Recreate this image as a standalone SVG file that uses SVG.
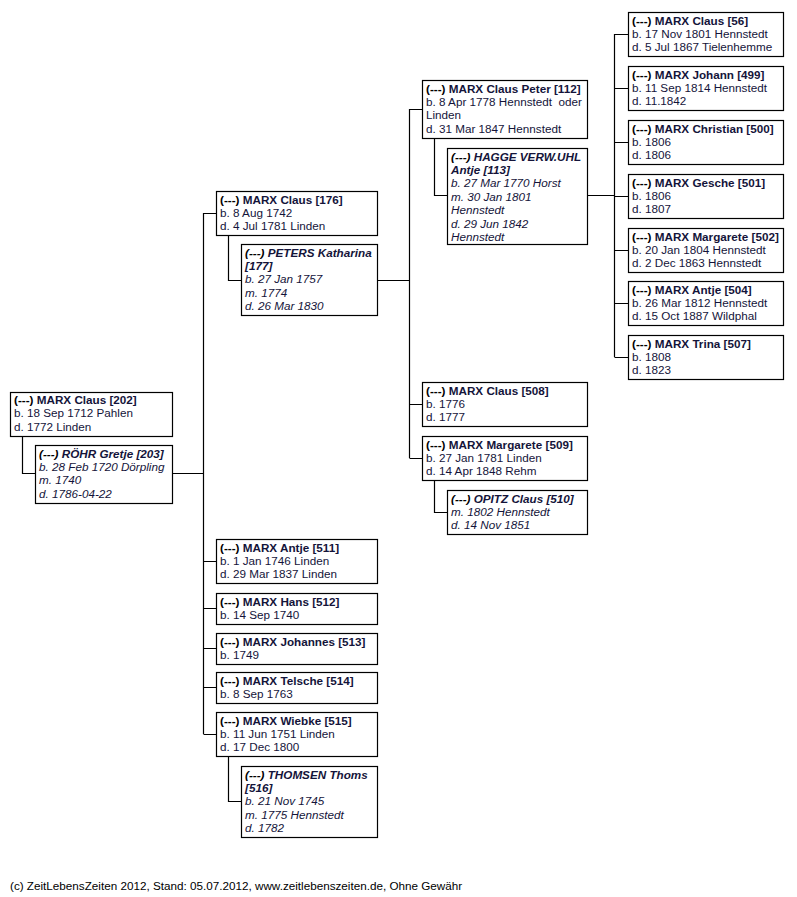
<svg xmlns="http://www.w3.org/2000/svg" width="797" height="897" viewBox="0 0 797 897">
<style>
.bx{fill:#fff;stroke:#000;stroke-width:1.2}
.ln{fill:none;stroke:#000;stroke-width:1.2}
text{font-family:"Liberation Sans",Arial,sans-serif;font-size:11.7px;fill:#14143a;white-space:pre}
.h{font-weight:bold}
.i{font-style:italic}
.k{fill:#000}
.f{fill:#000}
</style>
<rect width="797" height="897" fill="#fff"/>
<g id="connectors">
<path class="ln" d="M22.5 436V473.5H35M172 473.5H203.5M203.5 213V734"/>
<path class="ln" d="M203.5 213.5H216M203.5 561.5H216M203.5 608.5H216M203.5 648.5H216M203.5 687.5H216M203.5 734.5H216"/>
<path class="ln" d="M228.5 235V280.5H241M377 280.5H409.5M409.5 109V458"/>
<path class="ln" d="M228.5 756V801.5H241"/>
<path class="ln" d="M409.5 109.5H422M409.5 404.5H422M409.5 458.5H422"/>
<path class="ln" d="M434.5 138V195.5H447M587 195.5H614.5M434.5 480V512.5H447"/>
<path class="ln" d="M614.5 34V357M614.5 34.5H628M614.5 88.5H628M614.5 142.5H628M614.5 196.5H628M614.5 250.5H628M614.5 303.5H628M614.5 357.5H628"/>
</g>
<g id="n202"><rect class="bx" x="10.5" y="392.5" width="162" height="44"/>
<text x="14" y="404"><tspan class="h k">(---) </tspan><tspan class="h">MARX Claus [202]</tspan></text>
<text x="14" y="417.4">b. 18 Sep 1712 Pahlen</text><text x="14" y="430.8">d. 1772 Linden</text></g>
<g id="n203"><rect class="bx" x="35.5" y="445.5" width="137" height="58"/>
<text class="i" x="39" y="457.5"><tspan class="h k">(---) </tspan><tspan class="h">RÖHR Gretje [203]</tspan></text>
<text class="i" x="39" y="470.9">b. 28 Feb 1720 Dörpling</text><text class="i" x="39" y="484.3">m. 1740</text><text class="i" x="39" y="497.7">d. 1786-04-22</text></g>
<g id="n176"><rect class="bx" x="216.5" y="191.5" width="161" height="44"/>
<text x="220" y="203.5"><tspan class="h k">(---) </tspan><tspan class="h">MARX Claus [176]</tspan></text>
<text x="220" y="216.9">b. 8 Aug 1742</text><text x="220" y="230.3">d. 4 Jul 1781 Linden</text></g>
<g id="n177"><rect class="bx" x="241.5" y="244.5" width="136" height="71"/>
<text class="i" x="245" y="256.5"><tspan class="h k">(---) </tspan><tspan class="h">PETERS Katharina</tspan></text>
<text class="i h" x="245" y="269.9">[177]</text>
<text class="i" x="245" y="283.3">b. 27 Jan 1757</text><text class="i" x="245" y="296.7">m. 1774</text><text class="i" x="245" y="310.1">d. 26 Mar 1830</text></g>
<g id="n112"><rect class="bx" x="422.5" y="80.5" width="165" height="58"/>
<text x="426" y="92.5"><tspan class="h k">(---) </tspan><tspan class="h">MARX Claus Peter [112]</tspan></text>
<text x="426" y="105.9">b. 8 Apr 1778 Hennstedt  oder</text><text x="426" y="119.3">Linden</text><text x="426" y="132.7">d. 31 Mar 1847 Hennstedt</text></g>
<g id="n113"><rect class="bx" x="447.5" y="148.5" width="140" height="96"/>
<text class="i" x="451" y="160.5"><tspan class="h k">(---) </tspan><tspan class="h">HAGGE VERW.UHL</tspan></text>
<text class="i h" x="451" y="173.9">Antje [113]</text>
<text class="i" x="451" y="187.3">b. 27 Mar 1770 Horst</text><text class="i" x="451" y="200.7">m. 30 Jan 1801</text><text class="i" x="451" y="214.1">Hennstedt</text><text class="i" x="451" y="227.5">d. 29 Jun 1842</text><text class="i" x="451" y="240.9">Hennstedt</text></g>
<g id="n508"><rect class="bx" x="422.5" y="382.5" width="165" height="44"/>
<text x="426" y="394.5"><tspan class="h k">(---) </tspan><tspan class="h">MARX Claus [508]</tspan></text>
<text x="426" y="407.9">b. 1776</text><text x="426" y="421.3">d. 1777</text></g>
<g id="n509"><rect class="bx" x="422.5" y="436.5" width="165" height="44"/>
<text x="426" y="448.5"><tspan class="h k">(---) </tspan><tspan class="h">MARX Margarete [509]</tspan></text>
<text x="426" y="461.9">b. 27 Jan 1781 Linden</text><text x="426" y="475.3">d. 14 Apr 1848 Rehm</text></g>
<g id="n510"><rect class="bx" x="447.5" y="490.5" width="140" height="44"/>
<text class="i" x="451" y="502.5"><tspan class="h k">(---) </tspan><tspan class="h">OPITZ Claus [510]</tspan></text>
<text class="i" x="451" y="515.9">m. 1802 Hennstedt</text><text class="i" x="451" y="529.3">d. 14 Nov 1851</text></g>
<g id="n56"><rect class="bx" x="628.5" y="12.5" width="155" height="44"/>
<text x="632" y="24.5"><tspan class="h k">(---) </tspan><tspan class="h">MARX Claus [56]</tspan></text>
<text x="632" y="37.9">b. 17 Nov 1801 Hennstedt</text><text x="632" y="51.3">d. 5 Jul 1867 Tielenhemme</text></g>
<g id="n499"><rect class="bx" x="628.5" y="66.5" width="155" height="44"/>
<text x="632" y="78.5"><tspan class="h k">(---) </tspan><tspan class="h">MARX Johann [499]</tspan></text>
<text x="632" y="91.9">b. 11 Sep 1814 Hennstedt</text><text x="632" y="105.3">d. 11.1842</text></g>
<g id="n500"><rect class="bx" x="628.5" y="120.5" width="155" height="44"/>
<text x="632" y="132.5"><tspan class="h k">(---) </tspan><tspan class="h">MARX Christian [500]</tspan></text>
<text x="632" y="145.9">b. 1806</text><text x="632" y="159.3">d. 1806</text></g>
<g id="n501"><rect class="bx" x="628.5" y="174.5" width="155" height="44"/>
<text x="632" y="186.5"><tspan class="h k">(---) </tspan><tspan class="h">MARX Gesche [501]</tspan></text>
<text x="632" y="199.9">b. 1806</text><text x="632" y="213.3">d. 1807</text></g>
<g id="n502"><rect class="bx" x="628.5" y="228.5" width="155" height="44"/>
<text x="632" y="240.5"><tspan class="h k">(---) </tspan><tspan class="h">MARX Margarete [502]</tspan></text>
<text x="632" y="253.9">b. 20 Jan 1804 Hennstedt</text><text x="632" y="267.3">d. 2 Dec 1863 Hennstedt</text></g>
<g id="n504"><rect class="bx" x="628.5" y="281.5" width="155" height="44"/>
<text x="632" y="293.5"><tspan class="h k">(---) </tspan><tspan class="h">MARX Antje [504]</tspan></text>
<text x="632" y="306.9">b. 26 Mar 1812 Hennstedt</text><text x="632" y="320.3">d. 15 Oct 1887 Wildphal</text></g>
<g id="n507"><rect class="bx" x="628.5" y="335.5" width="155" height="44"/>
<text x="632" y="347.5"><tspan class="h k">(---) </tspan><tspan class="h">MARX Trina [507]</tspan></text>
<text x="632" y="360.9">b. 1808</text><text x="632" y="374.3">d. 1823</text></g>
<g id="n511"><rect class="bx" x="216.5" y="539.5" width="161" height="44"/>
<text x="220" y="551.5"><tspan class="h k">(---) </tspan><tspan class="h">MARX Antje [511]</tspan></text>
<text x="220" y="564.9">b. 1 Jan 1746 Linden</text><text x="220" y="578.3">d. 29 Mar 1837 Linden</text></g>
<g id="n512"><rect class="bx" x="216.5" y="593.5" width="161" height="31"/>
<text x="220" y="605.5"><tspan class="h k">(---) </tspan><tspan class="h">MARX Hans [512]</tspan></text>
<text x="220" y="618.9">b. 14 Sep 1740</text></g>
<g id="n513"><rect class="bx" x="216.5" y="633.5" width="161" height="31"/>
<text x="220" y="645.5"><tspan class="h k">(---) </tspan><tspan class="h">MARX Johannes [513]</tspan></text>
<text x="220" y="658.9">b. 1749</text></g>
<g id="n514"><rect class="bx" x="216.5" y="672.5" width="161" height="31"/>
<text x="220" y="684.5"><tspan class="h k">(---) </tspan><tspan class="h">MARX Telsche [514]</tspan></text>
<text x="220" y="697.9">b. 8 Sep 1763</text></g>
<g id="n515"><rect class="bx" x="216.5" y="712.5" width="161" height="44"/>
<text x="220" y="724.5"><tspan class="h k">(---) </tspan><tspan class="h">MARX Wiebke [515]</tspan></text>
<text x="220" y="737.9">b. 11 Jun 1751 Linden</text><text x="220" y="751.3">d. 17 Dec 1800</text></g>
<g id="n516"><rect class="bx" x="241.5" y="766.5" width="136" height="71"/>
<text class="i" x="245" y="778.5"><tspan class="h k">(---) </tspan><tspan class="h">THOMSEN Thoms</tspan></text>
<text class="i h" x="245" y="791.9">[516]</text>
<text class="i" x="245" y="805.3">b. 21 Nov 1745</text><text class="i" x="245" y="818.7">m. 1775 Hennstedt</text><text class="i" x="245" y="832.1">d. 1782</text></g>
<text class="f" x="10" y="890">(c) ZeitLebensZeiten 2012, Stand: 05.07.2012, www.zeitlebenszeiten.de, Ohne Gewähr</text>
</svg>
